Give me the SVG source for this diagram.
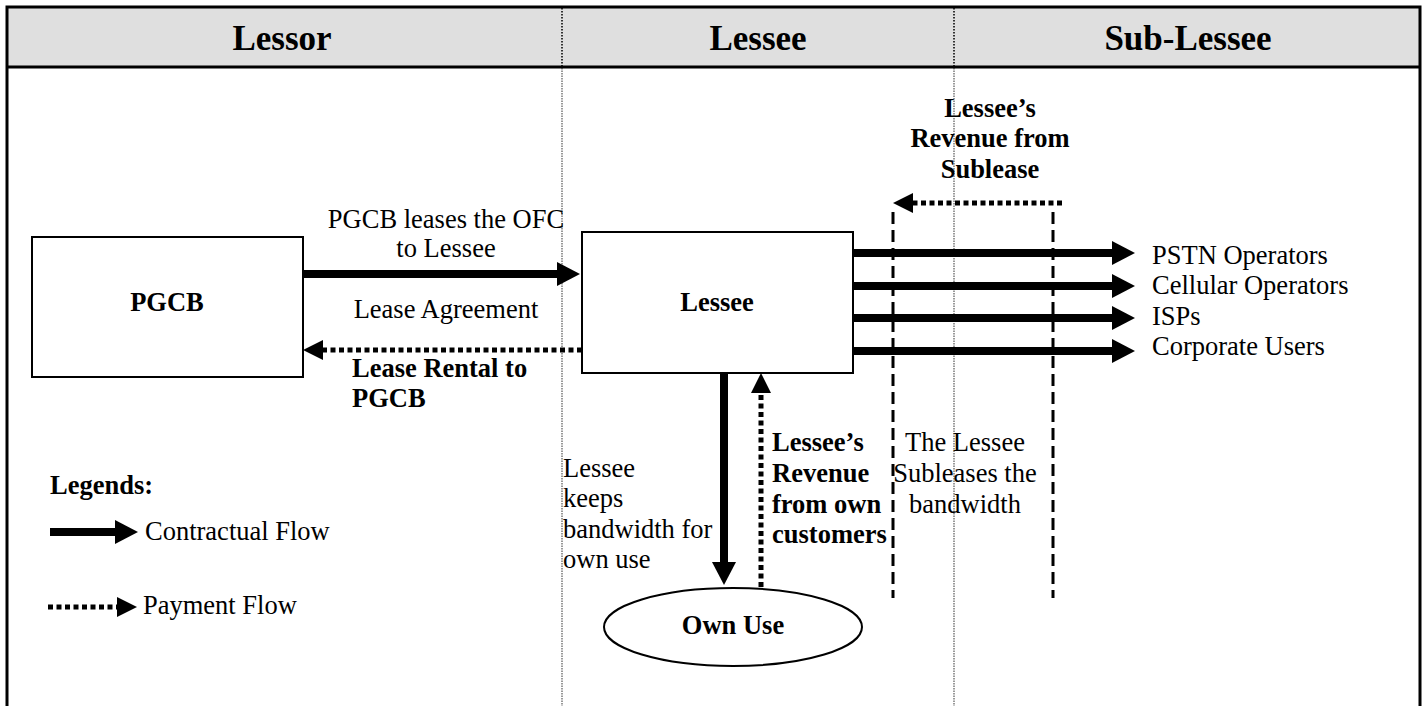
<svg xmlns="http://www.w3.org/2000/svg" width="1426" height="706" viewBox="0 0 1426 706">
<style>
text{font-family:"Liberation Serif","Times New Roman",serif;fill:#000;font-size:26.5px}
.b{font-weight:bold}
.h{font-weight:bold;font-size:35px}
.box{fill:#fff;stroke:#000;stroke-width:2}
.solid{stroke:#000;stroke-width:8;fill:none}
.dot{stroke:#000;stroke-width:5;fill:none;stroke-dasharray:5 3.5}
.dash{stroke:#000;stroke-width:3;fill:none;stroke-dasharray:12 6}
.frame{stroke:#000;stroke-width:3;fill:none}
</style>
<defs>
<marker id="ah" markerUnits="userSpaceOnUse" markerWidth="23" markerHeight="24" viewBox="0 0 23 24" refX="0" refY="12" orient="auto"><path d="M0,0 L23,12 L0,24 z" fill="#000"/></marker>
<marker id="ad" markerUnits="userSpaceOnUse" markerWidth="20" markerHeight="20" viewBox="0 0 20 20" refX="0" refY="10" orient="auto"><path d="M0,0 L20,10 L0,20 z" fill="#000"/></marker>
</defs>
<g id="frame">
<rect x="7" y="7" width="1413" height="60" fill="#dfdfdf"/>
<line x1="562" y1="8" x2="562" y2="66" stroke="#333" stroke-width="2" stroke-dasharray="1.5 1.5"/>
<line x1="954" y1="8" x2="954" y2="66" stroke="#333" stroke-width="2" stroke-dasharray="1.5 1.5"/>
<line x1="562" y1="68" x2="562" y2="706" stroke="#999" stroke-width="2" stroke-dasharray="1.5 1"/>
<line x1="954" y1="68" x2="954" y2="706" stroke="#999" stroke-width="2" stroke-dasharray="1.5 1"/>
<path class="frame" d="M7,706 L7,7 L1420,7 L1420,706 M7,67 L1420,67"/>
<text class="h" x="282" y="50" text-anchor="middle">Lessor</text>
<text class="h" x="758" y="50" text-anchor="middle">Lessee</text>
<text class="h" x="1188" y="50" text-anchor="middle">Sub-Lessee</text>
</g>
<g id="pgcb">
<rect class="box" x="32" y="237" width="271" height="140"/>
<text class="b" x="167" y="311" text-anchor="middle">PGCB</text>
</g>
<g id="lessee">
<rect class="box" x="582" y="232" width="271" height="141"/>
<text class="b" x="717" y="311" text-anchor="middle">Lessee</text>
</g>
<g id="ownuse">
<ellipse cx="733" cy="627" rx="129" ry="39" fill="#fff" stroke="#000" stroke-width="2"/>
<text class="b" x="733" y="634" text-anchor="middle">Own Use</text>
</g>
<g id="subs">
<text x="1152" y="264">PSTN Operators</text>
<text x="1152" y="294">Cellular Operators</text>
<text x="1152" y="325">ISPs</text>
<text x="1152" y="355">Corporate Users</text>
</g>
<g id="connectors">
<path class="solid" d="M303,274 L557,274" marker-end="url(#ah)"/>
<path class="dot" d="M582,350 L323,350" marker-end="url(#ad)"/>
<path class="solid" d="M852,253 L1112,253" marker-end="url(#ah)"/>
<path class="solid" d="M853,286 L1112,286" marker-end="url(#ah)"/>
<path class="solid" d="M853,318 L1112,318" marker-end="url(#ah)"/>
<path class="solid" d="M853,351 L1112,351" marker-end="url(#ah)"/>
<path class="solid" d="M724,373 L724,562" marker-end="url(#ah)"/>
<path class="dot" d="M761,587 L761,393" marker-end="url(#ad)"/>
<path class="dot" d="M1062,203 L913,203" marker-end="url(#ad)"/>
<path class="dash" d="M893,212 L893,598"/>
<path class="dash" d="M1053,212 L1053,598"/>
</g>
<g id="labels">
<text x="446" y="228" text-anchor="middle">PGCB leases the OFC</text>
<text x="446" y="257" text-anchor="middle">to Lessee</text>
<text x="446" y="318" text-anchor="middle">Lease Agreement</text>
<text class="b" x="352" y="377">Lease Rental to</text>
<text class="b" x="352" y="407">PGCB</text>
<text class="b" x="990" y="117" text-anchor="middle">Lessee’s</text>
<text class="b" x="990" y="147" text-anchor="middle">Revenue from</text>
<text class="b" x="990" y="178" text-anchor="middle">Sublease</text>
<text x="563" y="477">Lessee</text>
<text x="563" y="507">keeps</text>
<text x="563" y="538">bandwidth for</text>
<text x="563" y="568">own use</text>
<text class="b" x="772" y="451">Lessee’s</text>
<text class="b" x="772" y="482">Revenue</text>
<text class="b" x="772" y="513">from own</text>
<text class="b" x="772" y="543">customers</text>
<text x="965" y="451" text-anchor="middle">The Lessee</text>
<text x="965" y="482" text-anchor="middle">Subleases the</text>
<text x="965" y="513" text-anchor="middle">bandwidth</text>
</g>
<g id="legend">
<text class="b" x="50" y="494">Legends:</text>
<path class="solid" d="M50,532 L115,532" marker-end="url(#ah)"/>
<text x="145" y="540">Contractual Flow</text>
<path class="dot" d="M48,607 L117,607" marker-end="url(#ad)"/>
<text x="143" y="614">Payment Flow</text>
</g>
</svg>
